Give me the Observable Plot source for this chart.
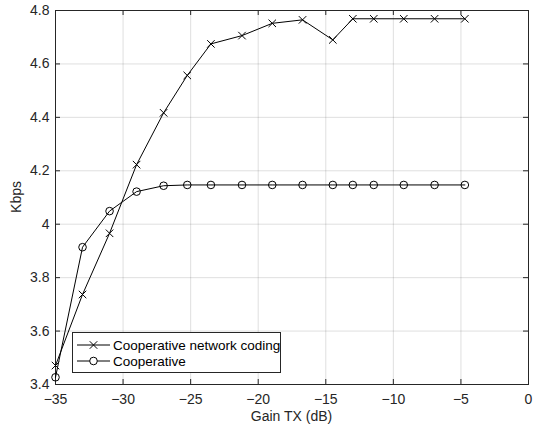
<!DOCTYPE html>
<html>
<head>
<meta charset="utf-8">
<script src="https://cdn.jsdelivr.net/npm/d3@7"></script>
<script src="https://cdn.jsdelivr.net/npm/@observablehq/plot@0.6"></script>
<style>
  html, body { margin: 0; padding: 0; background: #fff; }
  #chart { width: 533px; height: 430px; }
</style>
</head>
<body>
<div id="chart"></div>
<script>
// Data
const gainTX = [-35, -33, -31, -29, -27, -25.25, -23.5, -21.2, -18.96, -16.72, -14.48, -13, -11.45, -9.23, -6.95, -4.71];
const networkCoding = [3.471, 3.737, 3.966, 4.223, 4.417, 4.557, 4.675, 4.706, 4.752, 4.765, 4.690, 4.769, 4.769, 4.769, 4.769, 4.769];
const cooperative = [3.427, 3.914, 4.049, 4.122, 4.144, 4.147, 4.147, 4.147, 4.147, 4.147, 4.147, 4.147, 4.147, 4.147, 4.147, 4.147];
const xTicks = [-35, -30, -25, -20, -15, -10, -5, 0];
const yTicks = [3.4, 3.6, 3.8, 4.0, 4.2, 4.4, 4.6, 4.8];
const seriesNames = ["Cooperative network coding", "Cooperative"];
const xLabel = "Gain TX (dB)";
const yLabel = "Kbps";

const cncData = gainTX.map((x, i) => ({x, y: networkCoding[i]}));
const coopData = gainTX.map((x, i) => ({x, y: cooperative[i]}));

const W = 533, H = 430, mL = 55, mR = 5, mT = 10, mB = 46;
const fw = W - mL - mR, fh = H - mT - mB;
const axisColor = "#262626";
const font = "'Liberation Sans', Arial, Helvetica, sans-serif";

const chart = Plot.plot({
  width: W, height: H,
  marginLeft: mL, marginRight: mR, marginTop: mT, marginBottom: mB,
  style: {fontFamily: font, fontSize: "14px", color: axisColor, background: "white", overflow: "visible"},
  x: {domain: [-35, 0]},
  y: {domain: [3.4, 4.8]},
  marks: [
    Plot.gridX(xTicks, {stroke: axisColor, strokeOpacity: 0.15}),
    Plot.gridY(yTicks, {stroke: axisColor, strokeOpacity: 0.15}),
    Plot.tickX(xTicks, {x: d => d, insetTop: fh - 5, stroke: axisColor}),
    Plot.tickX(xTicks, {x: d => d, insetBottom: fh - 5, stroke: axisColor}),
    Plot.tickY(yTicks, {y: d => d, insetRight: fw - 5, stroke: axisColor}),
    Plot.tickY(yTicks, {y: d => d, insetLeft: fw - 5, stroke: axisColor}),
    Plot.axisX(xTicks, {tickSize: 0, tickPadding: 10, label: null, fill: axisColor}),
    Plot.axisY(yTicks, {tickSize: 0, tickPadding: 6, label: null, fill: axisColor, tickFormat: d => String(+d.toFixed(1))}),
    Plot.frame({stroke: axisColor}),
    Plot.line(cncData, {x: "x", y: "y", stroke: "black", strokeWidth: 1}),
    Plot.dot(cncData, {x: "x", y: "y", symbol: "times", r: 3.5, stroke: "black", strokeWidth: 1}),
    Plot.line(coopData, {x: "x", y: "y", stroke: "black", strokeWidth: 1}),
    Plot.dot(coopData, {x: "x", y: "y", symbol: "circle", r: 3.8, fill: "none", stroke: "black", strokeWidth: 1})
  ]
});
document.getElementById("chart").appendChild(chart);

// Axis labels and legend (layout only)
const svg = d3.select(chart);
svg.append("text")
  .attr("x", mL + fw / 2).attr("y", 421)
  .attr("text-anchor", "middle").attr("fill", axisColor)
  .style("font-family", font).style("font-size", "14px")
  .text(xLabel);
svg.append("text")
  .attr("transform", `translate(21,${mT + fh / 2}) rotate(-90)`)
  .attr("text-anchor", "middle").attr("fill", axisColor)
  .style("font-family", font).style("font-size", "14px")
  .text(yLabel);

const lg = svg.append("g");
lg.append("rect").attr("x", 72.5).attr("y", 332.5).attr("width", 208).attr("height", 40)
  .attr("fill", "white").attr("stroke", axisColor).attr("stroke-width", 1);
const rows = [345, 361];
seriesNames.forEach((name, i) => {
  const cy = rows[i];
  lg.append("line").attr("x1", 77).attr("x2", 110).attr("y1", cy).attr("y2", cy)
    .attr("stroke", "black").attr("stroke-width", 1);
  if (i === 0) {
    lg.append("path").attr("transform", `translate(93.5,${cy})`)
      .attr("d", d3.symbol(d3.symbolTimes, Math.PI * 3.5 * 3.5)())
      .attr("fill", "none").attr("stroke", "black").attr("stroke-width", 1);
  } else {
    lg.append("circle").attr("cx", 93.5).attr("cy", cy).attr("r", 3.8)
      .attr("fill", "white").attr("stroke", "black").attr("stroke-width", 1);
  }
  lg.append("text").attr("x", 113).attr("y", cy).attr("dy", "0.36em")
    .attr("text-anchor", "start")
    .attr("fill", "black")
    .style("font-family", font).style("font-size", "13.5px")
    .text(name);
});
</script>
</body>
</html>
